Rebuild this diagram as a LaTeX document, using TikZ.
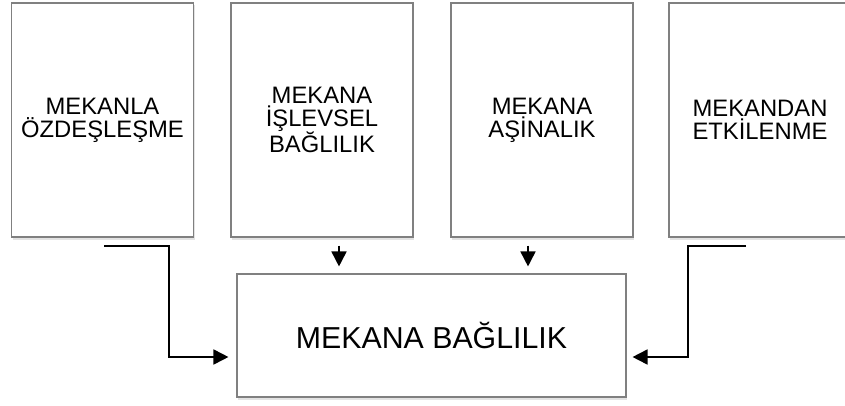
\documentclass[tikz,border=0pt]{standalone}
\usepackage{fontspec}
\setmainfont{Liberation Sans}
\usetikzlibrary{arrows.meta,shadows}

\begin{document}
\begin{tikzpicture}[x=1pt, y=1pt,
    kutu/.style={draw=black!50, line width=1.1pt, fill=white,
      drop shadow={shadow xshift=1.2pt, shadow yshift=-2.5pt, fill=black!22},
      align=center, inner sep=0pt},
    ust/.style={kutu, minimum width=182pt, minimum height=234pt,
      font=\fontsize{23.8}{22.7}\selectfont},
    alt/.style={kutu, minimum width=389pt, minimum height=123pt,
      font=\fontsize{30.3}{30}\selectfont},
    ok/.style={line width=1.7pt, -{Triangle[length=15pt, width=15pt]}}]
  \useasboundingbox (0,0) rectangle (845,405);
  \node[ust] (ozdes) at (102.5,285) {MEKANLA\\ÖZDEŞLEŞME};
  \node[ust] (islev) at (322,285) {MEKANA\\İŞLEVSEL\\BAĞLILIK};
  \node[ust] (asina) at (542,285) {MEKANA\\AŞİNALIK};
  \node[ust] (etki) at (760,285) {MEKANDAN\\ETKİLENME};
  \node[alt] (bag) at (431.5,69.5) {MEKANA BAĞLILIK};
  \draw[ok, shorten >=8pt] ([xshift=1.5pt, yshift=-8.5pt]ozdes.south) -- ++(65,0) |- ([yshift=-21.5pt]bag.west);
  \draw[ok, shorten >=6pt] ([xshift=-14pt, yshift=-8.5pt]etki.south) -- ++(-58,0) |- ([yshift=-21.5pt]bag.east);
  \draw[ok, shorten <=8pt, shorten >=7pt] ([xshift=17pt]islev.south) -- ([xshift=17pt]islev.south |- bag.north);
  \draw[ok, shorten <=8pt, shorten >=7pt] ([xshift=-14pt]asina.south) -- ([xshift=-14pt]asina.south |- bag.north);
\end{tikzpicture}
\end{document}
